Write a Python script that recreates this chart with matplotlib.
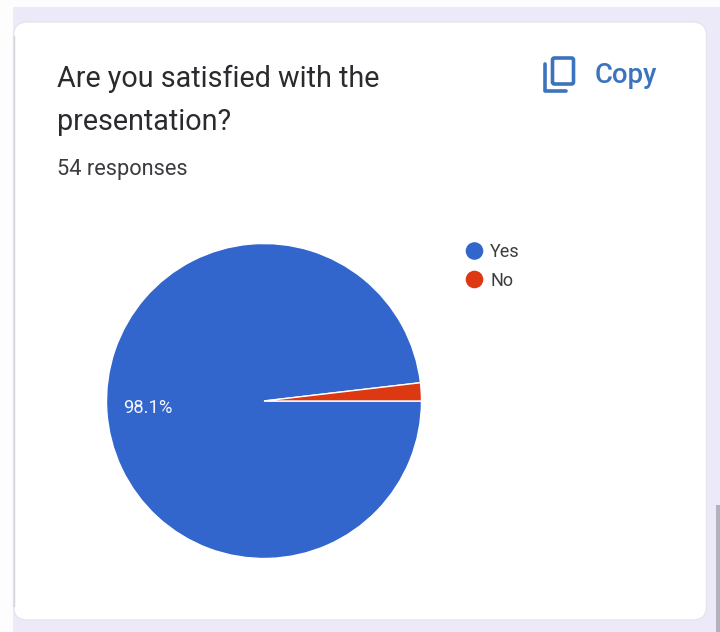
import matplotlib
matplotlib.use("Agg")
import matplotlib.pyplot as plt
from matplotlib.patches import FancyBboxPatch, Rectangle, Circle

categories = ["Yes", "No"]
responses = [53, 1]
colors = ["#3366CC", "#DC3912"]
title_lines = ["Are you satisfied with the", "presentation?"]
subtitle = "54 responses"
copy_label = "Copy"

W, H = 720, 632
fig = plt.figure(figsize=(W / 100, H / 100), dpi=100, facecolor="#FDFDFE")
bg = fig.add_axes([0, 0, 1, 1])
bg.set_xlim(0, W)
bg.set_ylim(H, 0)
bg.axis("off")

LAV = "#ECEAF8"
bg.add_patch(Rectangle((13, 7), W - 13, H - 7, fc=LAV, ec="none"))
bg.add_patch(FancyBboxPatch((13.5, 22), 693, 598, boxstyle="round,pad=0,rounding_size=14",
                            fc="#FFFFFF", ec="#E6E5EC", lw=1.0))
bg.plot([13.5, 13.5], [36, 606], color="#D6D5DC", lw=1.0)
bg.add_patch(Rectangle((716, 505), 4, 127, fc="#B5B2BF", ec="none"))

font = "Roboto"
TEXT = "#2A2B2E"
bg.text(57, 78.5, title_lines[0], fontsize=20.7, family=font, color=TEXT, va="center", ha="left")
bg.text(57, 121.5, title_lines[1], fontsize=20.7, family=font, color=TEXT, va="center", ha="left")
bg.text(57, 170, subtitle, fontsize=15.7, family=font, color="#3A3B3E", va="center", ha="left")
bg.text(595, 75.5, copy_label, fontsize=19.8, family=font, color="#3B73BE", va="center", ha="left", weight="medium")

BLUE = "#3B73BE"
bg.add_patch(FancyBboxPatch((552.5, 58), 21, 26, boxstyle="round,pad=0,rounding_size=2",
                            fc="none", ec=BLUE, lw=2.6))
bg.plot([545, 545, 566], [64, 91, 91], color=BLUE, lw=2.6, solid_capstyle="round", solid_joinstyle="round")

cx, cy, r = 264, 401, 157.5
ax = fig.add_axes([(cx - r) / W, 1 - (cy + r) / H, 2 * r / W, 2 * r / H])
ax.pie(responses, colors=colors, startangle=360 * responses[1] / sum(responses), radius=1,
       autopct=lambda p: f"{p:.1f}%" if p > 5 else "", pctdistance=0.74,
       textprops=dict(color="#F2F5FC", fontsize=13.2, family=font),
       wedgeprops=dict(edgecolor="white", linewidth=1.0))
ax.set_xlim(-1, 1)
ax.set_ylim(-1, 1)

for y, c, name in zip([251, 279.5], colors, categories):
    bg.add_patch(Circle((474.5, y), 8.8, fc=c, ec="none"))
    bg.text(490, y + 1.2, name, fontsize=13, family=font, color="#3C3C3C", va="center", ha="left")

fig.savefig("out.png", dpi=100, facecolor=fig.get_facecolor())
